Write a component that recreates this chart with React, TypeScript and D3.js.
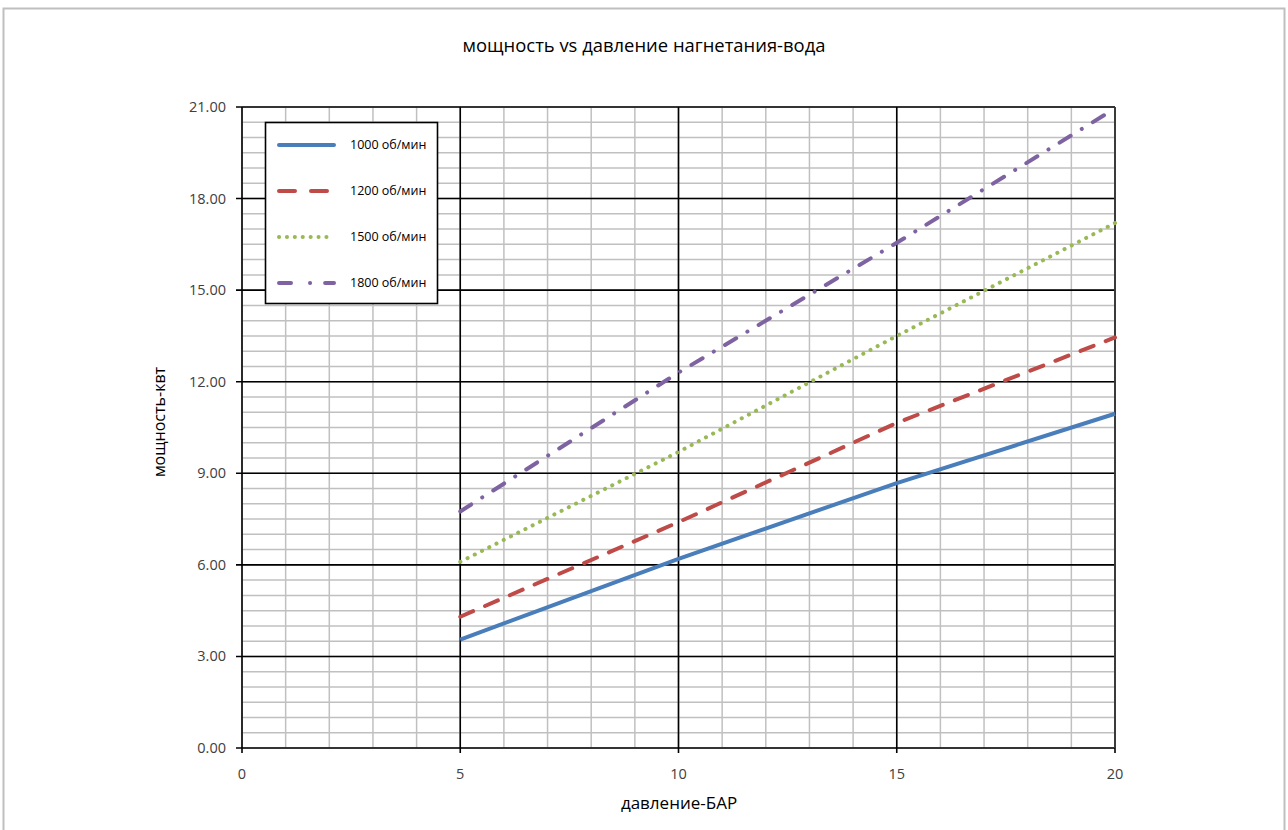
import React from "react";
import * as d3 from "d3";

const pressure = [5, 10, 15, 20];
const series = [
  { name: "1000 об/мин", values: [3.55, 6.2, 8.68, 10.95] },
  { name: "1200 об/мин", values: [4.3, 7.4, 10.65, 13.45] },
  { name: "1500 об/мин", values: [6.1, 9.7, 13.5, 17.2] },
  { name: "1800 об/мин", values: [7.75, 12.3, 16.55, 20.95] },
];
const xTicks = [0, 5, 10, 15, 20];
const yTicks = [0, 3, 6, 9, 12, 15, 18, 21];
const xMinor = d3.range(0, 21, 1);
const yMinor = d3.range(0, 21.01, 0.5);

const styles = [
  { color: "#4a7ebb", dash: "none", cap: "butt" },
  { color: "#be4b48", dash: "14 13", cap: "round" },
  { color: "#98b954", dash: "0.1 8", cap: "round" },
  { color: "#7e62a1", dash: "13 13 0.1 13", cap: "round" },
];

const W = 1288;
const H = 830;
const L = 242, R = 1115, T = 107, B = 748;
const font = "'Open Sans', 'DejaVu Sans', sans-serif";

export default function App() {
  const x = d3.scaleLinear().domain([0, 20]).range([L, R]);
  const y = d3.scaleLinear().domain([0, 21]).range([B, T]);
  const line = d3
    .line<number>()
    .x((_, i) => x(pressure[i]))
    .y((d) => y(d));

  return (
    <svg
      width={W}
      height={H}
      style={{ position: "absolute", left: 0, top: 0, background: "#fff" }}
    >
      <rect x={3.5} y={8.5} width={1281} height={830} fill="#fff" stroke="#bfbfbf" strokeWidth={2} />
      <text x={644} y={52} textAnchor="middle" fontFamily={font} fontSize={17.5} fill="#000" textLength={363} lengthAdjust="spacingAndGlyphs">
        мощность vs давление нагнетания-вода
      </text>
      {/* minor grid */}
      {xMinor.map((v) => (
        <line key={"xm" + v} x1={x(v)} x2={x(v)} y1={T} y2={B} stroke="#c0c0c0" strokeWidth={1.5} />
      ))}
      {yMinor.map((v) => (
        <line key={"ym" + v} x1={L} x2={R} y1={y(v)} y2={y(v)} stroke="#c0c0c0" strokeWidth={1.5} />
      ))}
      {/* major grid */}
      {xTicks.map((v) => (
        <line key={"xM" + v} x1={x(v)} x2={x(v)} y1={T} y2={B + 5} stroke="#000" strokeWidth={1.6} />
      ))}
      {yTicks.map((v) => (
        <line key={"yM" + v} x1={L - 6} x2={R} y1={y(v)} y2={y(v)} stroke="#000" strokeWidth={1.6} />
      ))}
      <line x1={R} x2={R} y1={T} y2={B} stroke="#404040" strokeWidth={1.6} />
      {/* tick labels */}
      {yTicks.map((v) => (
        <text key={"yl" + v} x={L - 16} y={y(v) + 5} textAnchor="end" fontFamily={font} fontSize={14.5} fill="#404040">
          {d3.format(".2f")(v)}
        </text>
      ))}
      {xTicks.map((v) => (
        <text key={"xl" + v} x={x(v)} y={779} textAnchor="middle" fontFamily={font} fontSize={14.5} fill="#404040">
          {v}
        </text>
      ))}
      <text x={679} y={809} textAnchor="middle" fontFamily={font} fontSize={17} fill="#000">
        давление-БАР
      </text>
      <text
        transform={`translate(165, ${422}) rotate(-90)`}
        textAnchor="middle"
        fontFamily={font}
        fontSize={16}
        fill="#000"
      >
        мощность-квт
      </text>
      {/* series */}
      {series.map((s, i) => (
        <path
          key={s.name}
          d={line(s.values) || ""}
          fill="none"
          stroke={styles[i].color}
          strokeWidth={4}
          strokeDasharray={styles[i].dash}
          strokeLinecap={styles[i].cap as any}
        />
      ))}
      {/* legend */}
      <rect x={265.5} y={122.5} width={172} height={181} fill="#fff" stroke="#000" strokeWidth={1.6} />
      {series.map((s, i) => {
        const ly = 145 + i * 46;
        return (
          <g key={"lg" + s.name}>
            <line
              x1={279}
              x2={334}
              y1={ly}
              y2={ly}
              stroke={styles[i].color}
              strokeWidth={4}
              strokeDasharray={i === 0 ? "none" : i === 1 ? "16 16" : i === 2 ? "0.1 7.8" : "12 19 0.1 15"}
              strokeLinecap="round"
            />
            <text x={350} y={ly + 4} fontFamily={font} fontSize={12.5} fill="#000">
              {s.name}
            </text>
          </g>
        );
      })}
    </svg>
  );
}
